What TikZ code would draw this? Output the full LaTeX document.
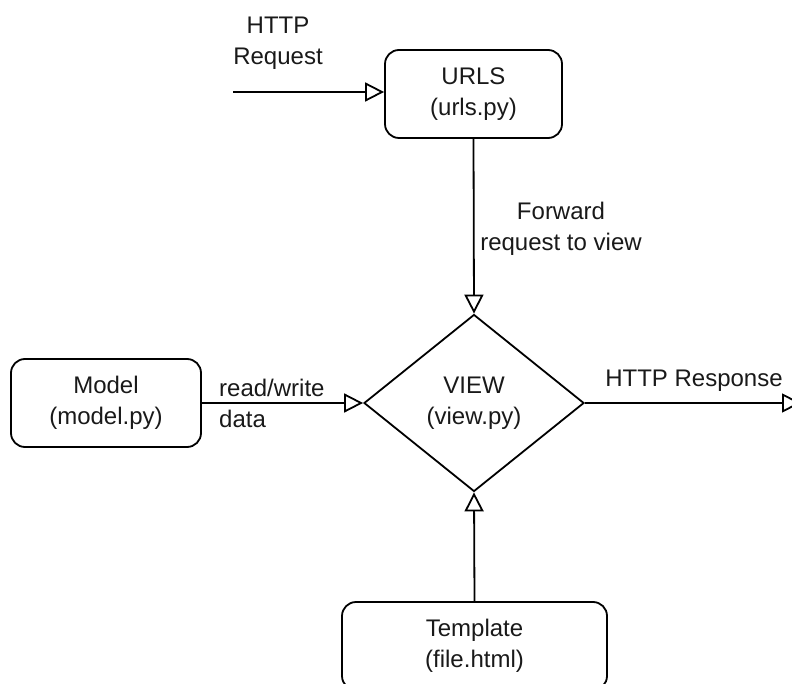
\documentclass[tikz,border=0pt]{standalone}
\usepackage{fontspec}
\setmainfont{Liberation Sans}
\usetikzlibrary{shapes.geometric,arrows.meta}
\begin{document}
\begin{tikzpicture}[x=1pt,y=-1pt,
  every node/.style={font=\fontsize{24}{31}\selectfont, text=black!90},
  box/.style={draw, rounded corners=14pt, line width=1.8pt, align=center, inner sep=0pt},
  lbl/.style={align=center, inner sep=0pt},
  conn/.style={line width=1.8pt, -{Triangle[open, length=19pt, width=19pt, line width=1.8pt]}}
]
\useasboundingbox (0,0) rectangle (792,684);
\node[box, minimum width=177pt, minimum height=88pt] (urls) at (473.5,94) {URLS\\(urls.py)};
\node[draw, diamond, line width=1.8pt, minimum width=220pt, minimum height=177pt, inner sep=0pt, aspect=1.24, align=center] (view) at (474,403) {VIEW\\(view.py)};
\node[box, minimum width=190pt, minimum height=88pt] (model) at (106,403) {Model\\(model.py)};
\node[box, minimum width=265pt, minimum height=88pt] (tmpl) at (474.5,646) {Template\\(file.html)};
\coordinate (reqin) at (233,92);
\coordinate (respout) at (801,403);
\draw[conn] (reqin) -- (reqin -| urls.west);
\draw[conn] (urls.south) -- (view.north);
\draw[conn] (model.east) -- (view.west);
\draw[conn] (tmpl.north) -- (view.south);
\draw[conn] (view.east) -- (respout);
\node[lbl] (reqlbl) at (278,43) {HTTP\\Request};
\node[lbl] (fwdlbl) at (561,229) {Forward\\request to view};
\node[lbl, align=left, anchor=west] (rwlbl) at (219,403) {read/write\\data};
\node[lbl] (resplbl) at (694,381) {HTTP Response};
\end{tikzpicture}
\end{document}
